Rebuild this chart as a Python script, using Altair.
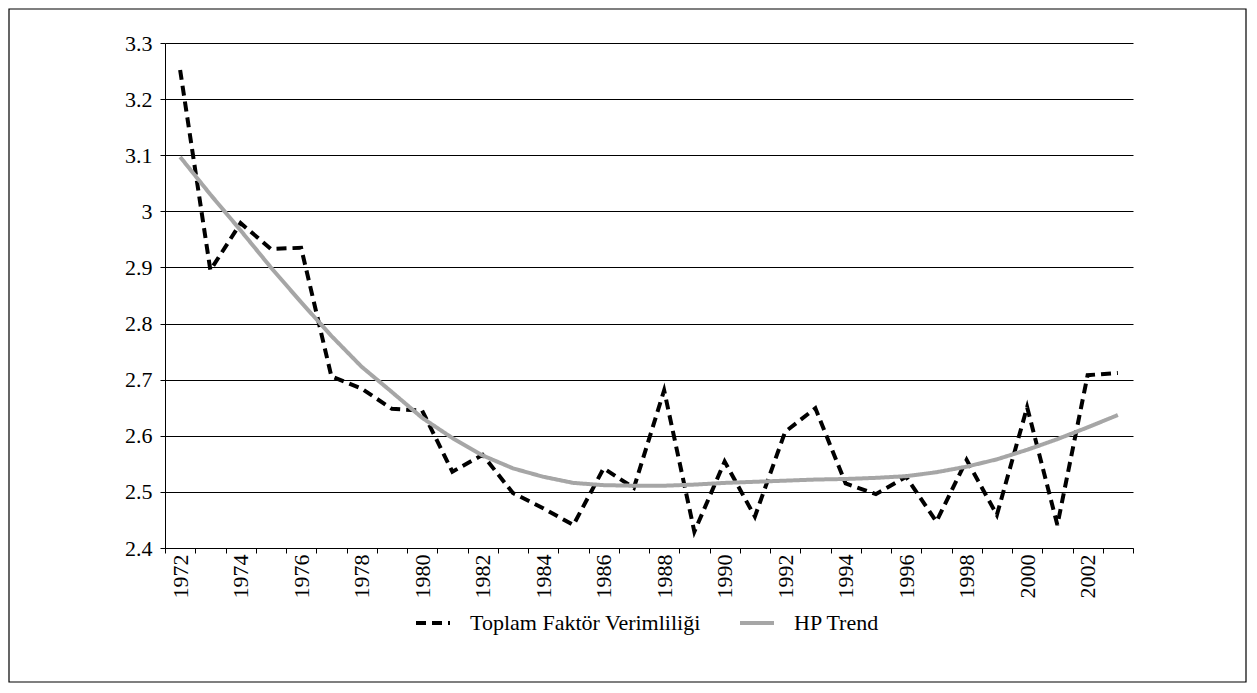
import altair as alt
import pandas as pd

years = list(range(1972, 2004))
tfp = [3.252, 2.895, 2.979, 2.933, 2.935, 2.706, 2.684, 2.648, 2.645, 2.536,
       2.566, 2.498, 2.471, 2.441, 2.542, 2.507, 2.681, 2.429, 2.554, 2.456,
       2.607, 2.649, 2.515, 2.496, 2.527, 2.447, 2.557, 2.459, 2.651, 2.441,
       2.708, 2.712]
hp = [3.097, 3.030, 2.966, 2.900, 2.838, 2.778, 2.723, 2.678, 2.632, 2.596,
      2.565, 2.542, 2.527, 2.516, 2.512, 2.511, 2.511, 2.513, 2.516, 2.518,
      2.520, 2.522, 2.523, 2.525, 2.528, 2.535, 2.545, 2.558, 2.575, 2.594,
      2.615, 2.637]
series_names = ["Toplam Faktör Verimliliği", "HP Trend"]
y_ticks = [2.4, 2.5, 2.6, 2.7, 2.8, 2.9, 3.0, 3.1, 3.2, 3.3]

rows = []
for name, vals in zip(series_names, [tfp, hp]):
    for yr, v in zip(years, vals):
        rows.append({"year": yr, "value": v, "series": name})
df = pd.DataFrame(rows)

FONT = "Liberation Serif"
FS = 22
W, H = 968, 505

lines = alt.Chart(df).mark_line(strokeWidth=4, strokeCap="butt").encode(
    x=alt.X("year:O", title=None, bandPosition=0.5,
            scale=alt.Scale(type="band", paddingInner=0, paddingOuter=0),
            axis=alt.Axis(tickBand="extent", labelAngle=-90, labelAlign="right",
                          labelBaseline="middle", labelPadding=1, tickSize=5,
                          tickColor="black", domainColor="black", labelColor="black",
                          labelFont=FONT, labelFontSize=FS, grid=False,
                          labelExpr="datum.value % 2 == 0 ? datum.value : ''")),
    y=alt.Y("value:Q", title=None,
            scale=alt.Scale(domain=[2.4, 3.3], nice=False, zero=False),
            axis=alt.Axis(values=y_ticks, format=".1~f", grid=True, gridColor="black",
                          gridWidth=1, gridOpacity=1, tickSize=5, tickColor="black",
                          domainColor="black", labelColor="black", labelFont=FONT,
                          labelFontSize=FS, labelPadding=8)),
    color=alt.Color("series:N", title=None,
                    scale=alt.Scale(domain=series_names, range=["#000000", "#a6a6a6"]),
                    legend=alt.Legend(orient="none", direction="horizontal",
                                      legendX=249, legendY=561, symbolType="stroke",
                                      symbolSize=1156, symbolStrokeWidth=4,
                                      labelFont=FONT, labelFontSize=FS,
                                      labelColor="black", labelOffset=18,
                                      labelLimit=600, columnPadding=31, padding=0)),
    strokeDash=alt.StrokeDash("series:N", title=None,
                              scale=alt.Scale(domain=series_names, range=[[10, 6], [1, 0]])),
    order=alt.Order("series:N", sort="descending"),
)

border = alt.Chart(alt.Data(values=[{}])).mark_rect(
    filled=False, stroke="black", strokeWidth=1.2
).encode(
    x=alt.value(-156), x2=alt.value(W + 113),
    y=alt.value(-34), y2=alt.value(H + 134),
)

chart = alt.layer(lines, border).properties(
    width=W, height=H,
    autosize=alt.AutoSizeParams(type="none"),
    padding={"left": 157, "top": 35, "right": 114, "bottom": 135},
).configure_view(stroke=None).configure_axis(domainWidth=1, tickWidth=1)

chart.save("out.html", embed_options={"renderer": "svg", "actions": False})
